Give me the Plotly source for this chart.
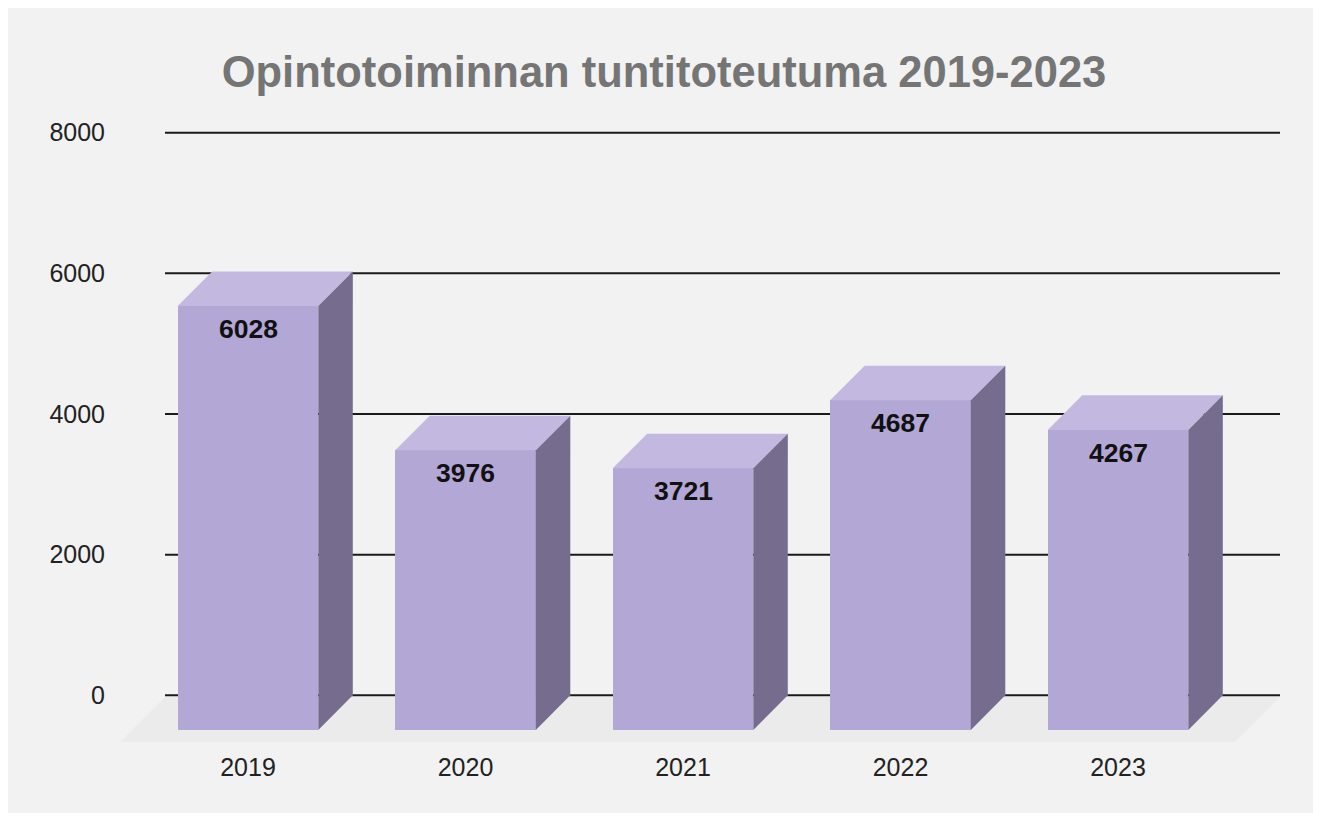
import plotly.graph_objects as go

# ---- data ----
years = ["2019", "2020", "2021", "2022", "2023"]
values = [6028, 3976, 3721, 4687, 4267]
y_ticks = [0, 2000, 4000, 6000, 8000]
title_text = "Opintotoiminnan tuntitoteutuma 2019-2023"

# ---- style / geometry constants ----
FRONT = "#b3a7d6"
TOP = "#c3b9e0"
SIDE = "#766d8e"
FLOOR = "#ebebeb"
BG = "#f2f2f2"
FONT = "Arial, Liberation Sans, sans-serif"

W, H = 1321, 813
ML, MR, MT, MB = 112, 49, 112, 71
X_RANGE = [-0.5885, 4.7448]
Y_RANGE = [-778, 8181]
BAR_W = 0.6464      # front face width (x units)
DX = 0.1586         # depth offset in x units
DY = 493            # depth offset in y units
BACK_X0 = X_RANGE[0] + 0.207

xs = list(range(len(years)))
fig = go.Figure()

# front faces
fig.add_trace(go.Bar(
    x=xs, y=values, base=[-DY] * len(values), width=BAR_W,
    marker=dict(color=FRONT, line=dict(width=0)),
    hoverinfo="skip", showlegend=False,
))

# top and side faces
for x, v in zip(xs, values):
    xl, xr = x - BAR_W / 2, x + BAR_W / 2
    fig.add_trace(go.Scatter(
        x=[xl, xr, xr + DX, xl + DX, xl],
        y=[v - DY, v - DY, v, v, v - DY],
        fill="toself", fillcolor=TOP, mode="lines", line=dict(width=0),
        hoverinfo="skip", showlegend=False,
    ))
    fig.add_trace(go.Scatter(
        x=[xr, xr + DX, xr + DX, xr, xr],
        y=[-DY, 0, v, v - DY, -DY],
        fill="toself", fillcolor=SIDE, mode="lines", line=dict(width=0),
        hoverinfo="skip", showlegend=False,
    ))

# value labels
for x, v in zip(xs, values):
    fig.add_annotation(
        x=x, y=v - DY, text=f"<b>{v}</b>", showarrow=False,
        yanchor="middle", yshift=-23,
        font=dict(family=FONT, size=26.5, color="#111111"),
    )

shapes = []
# floor
floor_back = -24
floor_front = -664
shapes.append(dict(type="path", xref="x", yref="y",
                   path=f"M {X_RANGE[0]},{floor_front} L {X_RANGE[1] - 0.207},{floor_front} "
                        f"L {X_RANGE[1]},{floor_back} L {BACK_X0},{floor_back} Z",
                   fillcolor=FLOOR, line=dict(width=0), layer="below"))
# gridlines
for t in y_ticks:
    shapes.append(dict(type="line", xref="x", yref="y",
                       x0=BACK_X0, x1=X_RANGE[1], y0=t, y1=t,
                       line=dict(color="#1a1a1a", width=2), layer="below"))

fig.update_layout(
    width=W, height=H,
    margin=dict(l=ML, r=MR, t=MT, b=MB),
    paper_bgcolor=BG, plot_bgcolor="rgba(0,0,0,0)",
    shapes=shapes,
    title=dict(text=f"<b>{title_text}</b>", x=656 / W, y=1 - 64 / H,
               xanchor="center", yanchor="middle",
               font=dict(family=FONT, size=43.5, color="#757575")),
    xaxis=dict(range=X_RANGE, tickmode="array", tickvals=xs, ticktext=years,
               showgrid=False, zeroline=False, showline=False, ticks="",
               tickfont=dict(family=FONT, size=25, color="#222222"),
               fixedrange=True),
    yaxis=dict(range=Y_RANGE, tickmode="array", tickvals=y_ticks,
               ticktext=[str(t) for t in y_ticks],
               showgrid=False, zeroline=False, showline=False, ticks="",
               ticklabelstandoff=14,
               tickfont=dict(family=FONT, size=25, color="#222222"),
               fixedrange=True),
    bargap=0, hovermode=False,
)

fig.write_html("out.html")
